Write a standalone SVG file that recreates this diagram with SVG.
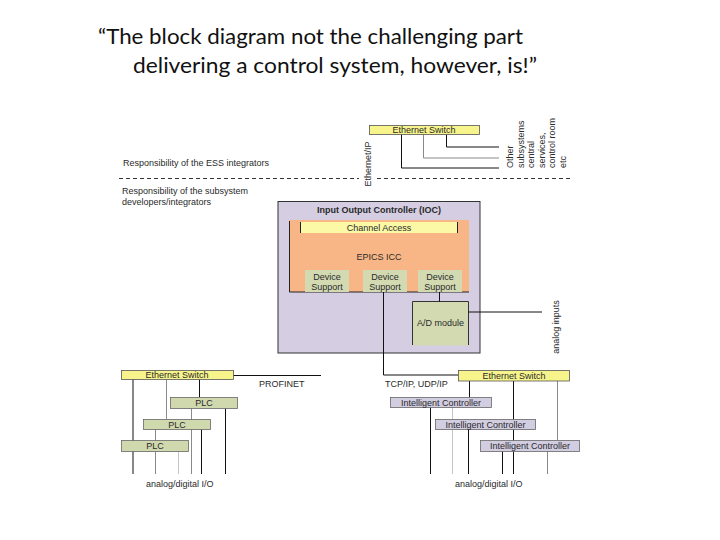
<svg xmlns="http://www.w3.org/2000/svg" width="720" height="540" viewBox="0 0 720 540">
<style>
.title{font-family:Lato,"Liberation Sans",sans-serif;font-size:21px;fill:#111}
.t{font-family:"Liberation Sans",Arial,sans-serif;font-size:9px;fill:#2a2a2a}
.c{text-anchor:middle}
.b{font-weight:bold}
.sw{fill:#f8f48c;stroke:#555;stroke-width:0.8}
.plc{fill:#d0d8ae;stroke:#666;stroke-width:0.8}
.ic{fill:#d3cde2;stroke:#666;stroke-width:0.8}
.ln{fill:none;stroke:#111;stroke-width:1}
.g1{fill:none;stroke:#8a8a8a;stroke-width:1}
.g2{fill:none;stroke:#c4c4c4;stroke-width:1}
.dash{fill:none;stroke:#333;stroke-width:1;stroke-dasharray:4,3}
</style>
<rect width="720" height="540" fill="#fff"/>
<g id="title">
<text class="title" x="98" y="44" textLength="425" lengthAdjust="spacingAndGlyphs">“The block diagram not the challenging part</text>
<text class="title" x="133" y="73" textLength="404" lengthAdjust="spacingAndGlyphs">delivering a control system, however, is!”</text>
</g>
<g id="responsibility">
<text class="t" x="123" y="166">Responsibility of the ESS integrators</text>
<path class="dash" d="M119,178.5 H359 M377,178.5 H570"/>
<text class="t" x="122" y="194">Responsibility of the subsystem</text>
<text class="t" x="122" y="205">developers/integrators</text>
<text class="t c" transform="translate(371,164) rotate(-90)">Ethernet/IP</text>
</g>
<g id="ioc">
<rect x="278" y="201.5" width="202" height="151.5" fill="#d5cee2" stroke="#333" stroke-width="1"/>
<text class="t c b" x="379" y="213">Input Output Controller (IOC)</text>
<rect x="289" y="220" width="180" height="72" fill="#f8b686"/>
<path d="M289.5,221 V292 H469" fill="none" stroke="#222" stroke-width="1"/>
<rect x="300" y="222" width="157" height="11" fill="#fbf8a6"/>
<path d="M300.5,222 V233 M457.5,222 V233" stroke="#222" stroke-width="1"/>
<text class="t c" x="379" y="231">Channel Access</text>
<text class="t c" x="379" y="260">EPICS ICC</text>
</g>
<g id="device-support-1">
<rect x="305" y="270" width="44" height="22" fill="#d3dab2"/>
<text class="t c" x="327" y="280">Device</text>
<text class="t c" x="327" y="289.5">Support</text>
</g>
<g id="device-support-2">
<rect x="363" y="270" width="44" height="22" fill="#d3dab2"/>
<text class="t c" x="385" y="280">Device</text>
<text class="t c" x="385" y="289.5">Support</text>
</g>
<g id="device-support-3">
<rect x="418" y="270" width="44" height="22" fill="#d3dab2"/>
<text class="t c" x="440" y="280">Device</text>
<text class="t c" x="440" y="289.5">Support</text>
</g>
<g id="ad-module">
<rect x="412.5" y="301.5" width="56" height="44" fill="#d3dab2"/>
<path d="M412.5,345 V301.5 H468.5 V345" fill="none" stroke="#333" stroke-width="1"/>
<text class="t c" x="440.5" y="326">A/D module</text>
</g>
<g id="connectors">
<path class="ln" d="M401.5,134 V168 H499"/>
<path class="g1" d="M423.5,134 V158 H499"/>
<path class="ln" d="M446.5,134 V147 H499"/>
<path class="ln" d="M383.5,292 V375 H458"/>
<path class="ln" d="M439.5,292 V301.5"/>
<path class="ln" d="M468.5,312 H542"/>
<path class="ln" d="M233,375.5 H321"/>
<path class="ln" d="M133,379 V474"/>
<path class="g1" d="M166.5,379 V419"/>
<path class="ln" d="M199.5,379 V397"/>
<path class="g1" d="M191.5,408 V474"/>
<path class="ln" d="M225.5,408 V474"/>
<path class="g1" d="M155.5,429 V474"/>
<path class="ln" d="M201.5,429 V474"/>
<path class="g2" d="M178.5,451 V474"/>
<path class="ln" d="M469.5,381 V397"/>
<path class="ln" d="M513.5,381 V474"/>
<path class="g1" d="M557.5,381 V440"/>
<path class="ln" d="M430.5,407 V474"/>
<path class="g2" d="M452.5,407 V474"/>
<path class="ln" d="M468.5,429 V474"/>
<path class="ln" d="M502.5,451 V474"/>
<path class="g1" d="M547.5,451 V474"/>
</g>
<g id="ethernet-switch-top">
<rect class="sw" x="369.5" y="125.5" width="110" height="9"/>
<text class="t c" x="424" y="133">Ethernet Switch</text>
</g>
<g id="other-subsystems">
<text class="t" transform="translate(513,168) rotate(-90)">Other</text>
<text class="t" transform="translate(523.5,168) rotate(-90)">subsystems</text>
<text class="t" transform="translate(534,168) rotate(-90)">central</text>
<text class="t" transform="translate(544.5,168) rotate(-90)">services,</text>
<text class="t" transform="translate(555,168) rotate(-90)">control room</text>
<text class="t" transform="translate(566,168) rotate(-90)">etc</text>
</g>
<g id="analog-inputs">
<text class="t c" transform="translate(559,327) rotate(-90)">analog inputs</text>
</g>
<g id="ethernet-switch-left">
<rect class="sw" x="121.5" y="370.5" width="112" height="9"/>
<text class="t c" x="177" y="378">Ethernet Switch</text>
</g>
<g id="profinet">
<text class="t" x="259" y="386.5">PROFINET</text>
</g>
<g id="plc-1">
<rect class="plc" x="170.5" y="397.5" width="67" height="11"/>
<text class="t c" x="204" y="406">PLC</text>
</g>
<g id="plc-2">
<rect class="plc" x="143.5" y="419.5" width="67" height="10"/>
<text class="t c" x="177" y="427.5">PLC</text>
</g>
<g id="plc-3">
<rect class="plc" x="121.5" y="440.5" width="67" height="11"/>
<text class="t c" x="155" y="449">PLC</text>
</g>
<g id="io-left">
<text class="t" x="146" y="487">analog/digital I/O</text>
</g>
<g id="tcpip">
<text class="t" x="385" y="386.5">TCP/IP, UDP/IP</text>
</g>
<g id="ethernet-switch-right">
<rect class="sw" x="458.5" y="370.5" width="111" height="10.5"/>
<text class="t c" x="514" y="378.5">Ethernet Switch</text>
</g>
<g id="intelligent-controller-1">
<rect class="ic" x="390.5" y="397.5" width="101" height="10"/>
<text class="t c" x="441" y="405.5">Intelligent Controller</text>
</g>
<g id="intelligent-controller-2">
<rect class="ic" x="435.5" y="419.5" width="100" height="10"/>
<text class="t c" x="485.5" y="427.5">Intelligent Controller</text>
</g>
<g id="intelligent-controller-3">
<rect class="ic" x="480.5" y="440.5" width="99" height="11"/>
<text class="t c" x="530" y="449">Intelligent Controller</text>
</g>
<g id="io-right">
<text class="t" x="455" y="487">analog/digital I/O</text>
</g>
</svg>
